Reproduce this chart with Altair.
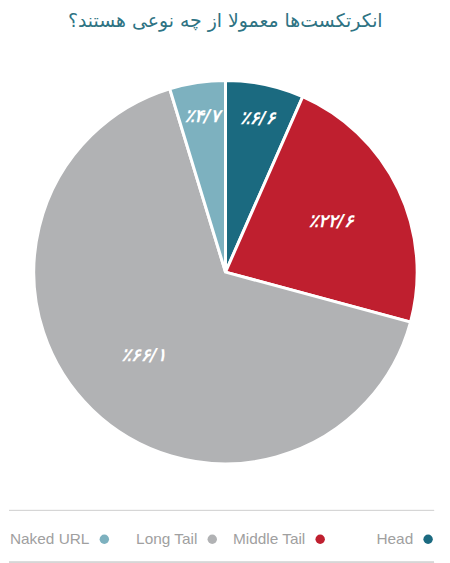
import altair as alt
import pandas as pd

# ---- data ----
categories = ["Head", "Middle Tail", "Long Tail", "Naked URL"]
values = [6.6, 22.6, 66.1, 4.7]
colors = ["#1b6a80", "#bf1f2f", "#b1b2b4", "#7db1bf"]
legend_order = ["Naked URL", "Long Tail", "Middle Tail", "Head"]
title_text = "انکرتکست‌ها معمولا از چه نوعی هستند؟"

fa_digits = str.maketrans("0123456789", "۰۱۲۳۴۵۶۷۸۹")


def fa_label(v):
    return "٪" + f"{v:.1f}".replace(".", "/").translate(fa_digits)


pie_df = pd.DataFrame({
    "category": categories,
    "value": values,
    "order": list(range(len(categories))),
    "label": [fa_label(v) for v in values],
    "small": [v < 10 for v in values],
})

color_scale = alt.Scale(domain=categories, range=colors)

arcs = alt.Chart(pie_df).mark_arc(outerRadius=193, stroke="white", strokeWidth=3).encode(
    theta=alt.Theta("value:Q", stack=True),
    order=alt.Order("order:Q", sort="ascending"),
    color=alt.Color("category:N", scale=color_scale, legend=None),
)

label_base = alt.Chart(pie_df).transform_window(
    cum="sum(value)", sort=[alt.SortField("order", order="ascending")], frame=[None, 0]
).transform_joinaggregate(
    total="sum(value)"
).transform_calculate(
    mid="2 * PI * (datum.cum - datum.value / 2) / datum.total"
)

label_style = dict(color="white", fontSize=18, fontWeight="bold", fontStyle="italic", font="DejaVu Sans")

labels_small = label_base.transform_filter("datum.small").mark_text(radius=158, **label_style).encode(
    theta=alt.Theta("mid:Q", scale=None),
    text="label:N",
)
labels_big = label_base.transform_filter("!datum.small").mark_text(radius=118, **label_style).encode(
    theta=alt.Theta("mid:Q", scale=None),
    text="label:N",
)

pie = alt.layer(arcs, labels_small, labels_big).properties(width=436, height=390)

# ---- legend ----
legend_df = pd.DataFrame({"category": legend_order})
lx = alt.X("category:N", scale=alt.Scale(domain=legend_order, range=[96, 422], padding=0), axis=None)

legend_dots = alt.Chart(legend_df).mark_point(filled=True, shape="circle", size=90, opacity=1).encode(
    x=lx,
    y=alt.value(29),
    color=alt.Color("category:N", scale=color_scale, legend=None),
)
legend_text = alt.Chart(legend_df).mark_text(
    align="right", baseline="middle", dx=-15, fontSize=15.5, color="#a0a0a0", font="Liberation Sans"
).encode(x=lx, y=alt.value(29), text="category:N")

rule_top = alt.Chart(legend_df).mark_rule(color="#d6d6d6", strokeWidth=1).encode(
    x=alt.value(0), x2=alt.value(428), y=alt.value(0)
)
rule_bottom = alt.Chart(legend_df).mark_rule(color="#d6d6d6", strokeWidth=1).encode(
    x=alt.value(0), x2=alt.value(428), y=alt.value(52)
)

legend = alt.layer(rule_top, rule_bottom, legend_text, legend_dots).properties(width=428, height=52)

chart = alt.vconcat(
    pie, legend, spacing=40,
    title=alt.TitleParams(
        title_text, fontSize=19, fontWeight="normal", color="#2e7383", font="DejaVu Sans",
        anchor="middle", offset=44,
    ),
).properties(
    padding={"top": 2, "left": 0, "right": 0, "bottom": 0}, background="white"
).configure_view(stroke=None)

chart.save("out.html", embed_options={"renderer": "svg", "actions": False})
